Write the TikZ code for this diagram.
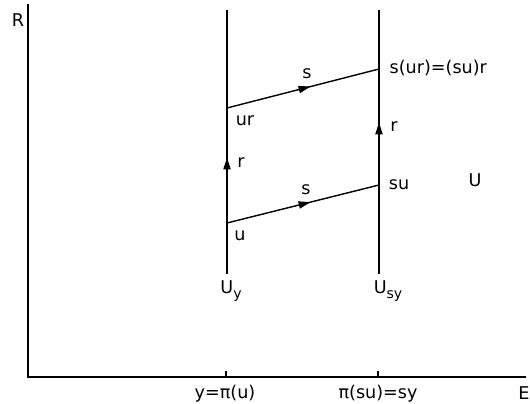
\documentclass[tikz,border=0pt]{standalone}
\usepackage{fontspec}
\setmainfont{DejaVu Sans}
\usetikzlibrary{arrows.meta, decorations.markings}

\newcommand{\lowsub}[1]{\raisebox{-0.55ex}{\fontsize{10}{12}\selectfont #1}}

\begin{document}
\begin{tikzpicture}[
    x=0.25mm, y=-0.25mm,
    lbl/.style = {inner sep=1pt, font=\fontsize{12.5}{15}\selectfont},
    axis/.style = {line width=0.8pt},
    fibre/.style = {line width=1pt},
    arr/.style = {
        postaction=decorate,
        decoration={markings,
            mark=at position #1 with {\arrow{Triangle[length=3mm, width=1.8mm]}}}
    }
]
\useasboundingbox (0,0) rectangle (530,404);

%% Axes
\coordinate (Rtop) at (28,4);
\coordinate (Eend) at (526,377);
\coordinate (tky) at (226,377);
\coordinate (tksy) at (378,377);
\draw[axis] (Rtop) |- (Eend);
\draw[axis] (tky) -- ++(0,-6);
\draw[axis] (tksy) -- ++(0,-6);

\node[lbl] (R) at (18,20) {R};
\node[lbl] (E) at (524,393) {E};
\node[lbl] (piu) at (225,394) {y=π(u)};
\node[lbl] (pisu) at (378,394) {π(su)=sy};

%% Fibres
\coordinate (yt) at (227,10);
\coordinate (yb) at (227,274);
\coordinate (syt) at (379,10);
\coordinate (syb) at (379,274);
\coordinate (u) at (227,223);
\coordinate (ur) at (227,108);
\coordinate (su) at (379,185);
\coordinate (sur) at (379,69);

\draw[fibre] (yb) -- (yt);
\draw[fibre] (syb) -- (syt);
\draw[fibre, arr=0.57] (u) -- (ur);
\draw[fibre, arr=0.54] (su) -- (sur);
\draw[fibre, arr=0.55] (u) -- (su);
\draw[fibre, arr=0.55] (ur) -- (sur);

%% Labels
\node[lbl] (Uy) at (231,291) {U\lowsub{y}};
\node[lbl] (Usy) at (388,291) {U\lowsub{sy}};
\node[lbl] (lu) at (240,236) {u};
\node[lbl] (lur) at (245,121) {ur};
\node[lbl] (lsu) at (399,185) {su};
\node[lbl, anchor=west] (lsur) at (388,68) {s(ur)=(su)r};
\node[lbl] (s1) at (306,190) {s};
\node[lbl] (s2) at (307,74) {s};
\node[lbl] (r1) at (241,163) {r};
\node[lbl] (r2) at (394,127) {r};
\node[lbl] (U) at (475,180) {U};

\end{tikzpicture}
\end{document}
